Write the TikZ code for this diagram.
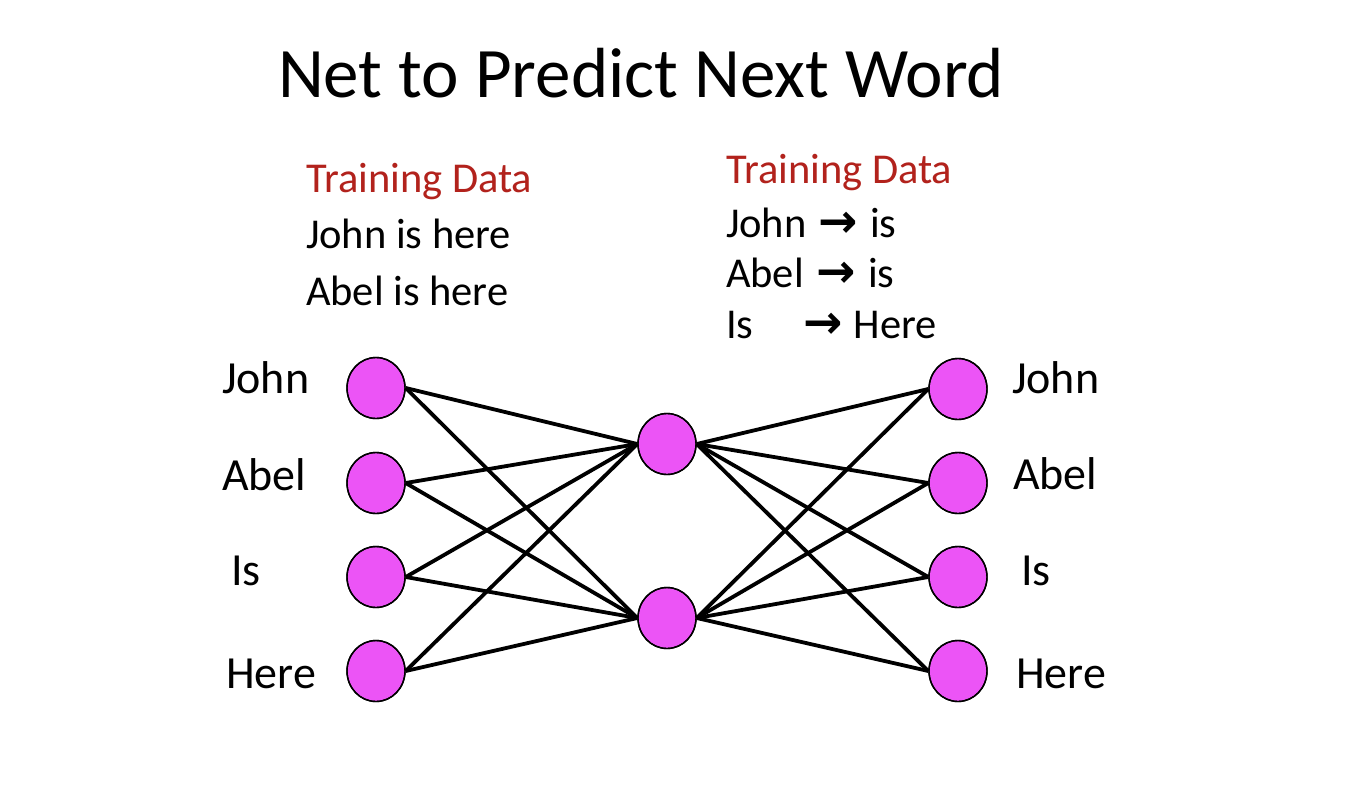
\documentclass[tikz,border=0pt]{standalone}
\usepackage{fontspec}
\setmainfont{Carlito}
\newfontfamily\arrowfont{DejaVu Sans}
\usetikzlibrary{shapes.geometric}
\definecolor{neuron}{RGB}{236,84,246}
\definecolor{datared}{RGB}{178,34,28}
\newcommand{\thickarr}{{\fontsize{47}{50}\selectfont\arrowfont\bfseries →}}
\begin{document}
\begin{tikzpicture}[x=1pt,y=-1pt,
  neur/.style={ellipse,draw=black,line width=1.4pt,fill=neuron,minimum width=58pt,minimum height=61pt,inner sep=0pt},
  link/.style={line width=3.8pt,black},
  txt/.style={anchor=base west,inner sep=0pt,outer sep=0pt},
  lbl/.style={txt,font=\fontsize{46}{54}\selectfont},
  dat/.style={txt,font=\fontsize{42.5}{50}\selectfont},
  ttl/.style={txt,font=\fontsize{71}{84}\selectfont}]
\useasboundingbox (0,0) rectangle (1366,804);
\fill[white] (0,0) rectangle (1366,804);

\node[ttl] (title) at (278,97) {Net to Predict Next Word};

\node[dat,text=datared] (tdl) at (306,192) {Training Data};
\node[dat] (tdl1) at (306,248) {John is here};
\node[dat] (tdl2) at (306,305) {Abel is here};

\node[dat,text=datared] (tdr) at (726,183) {Training Data};
\node[dat] (tdr1) at (726,237) {John\hspace{12pt}\thickarr\hspace{12pt}is};
\node[dat] (tdr2) at (726,287) {Abel\hspace{13pt}\thickarr\hspace{12pt}is};
\node[dat] (tdr3) at (726,338) {Is\hspace{50pt}\thickarr\hspace{11pt}Here};

\node[neur] (l1) at (376,388) {};
\node[neur] (l2) at (376,483) {};
\node[neur] (l3) at (376,577) {};
\node[neur] (l4) at (376,671) {};
\node[neur] (m1) at (667,444) {};
\node[neur] (m2) at (667,618) {};
\node[neur] (r1) at (958,389) {};
\node[neur] (r2) at (958,483) {};
\node[neur] (r3) at (958,577) {};
\node[neur] (r4) at (958,671) {};

\node[lbl] (ll1) at (222,393) {John};
\node[lbl] (ll2) at (222,490) {Abel};
\node[lbl] (ll3) at (231,585) {Is};
\node[lbl] (ll4) at (226,688) {Here};
\node[lbl] (rl1) at (1012,393) {John};
\node[lbl] (rl2) at (1013,489) {Abel};
\node[lbl] (rl3) at (1021,585) {Is};
\node[lbl] (rl4) at (1016,688) {Here};

\foreach \l in {l1,l2,l3,l4}{
  \foreach \m in {m1,m2}{
    \draw[link] (\l.east) -- (\m.west);
  }
}
\foreach \r in {r1,r2,r3,r4}{
  \foreach \m in {m1,m2}{
    \draw[link] (\m.east) -- (\r.west);
  }
}
\foreach \n in {l1,l2,l3,l4,m1,m2,r1,r2,r3,r4}{
  \draw[line width=1.4pt] (\n.center) ellipse[x radius=29pt,y radius=30.5pt];
}
\end{tikzpicture}
\end{document}
